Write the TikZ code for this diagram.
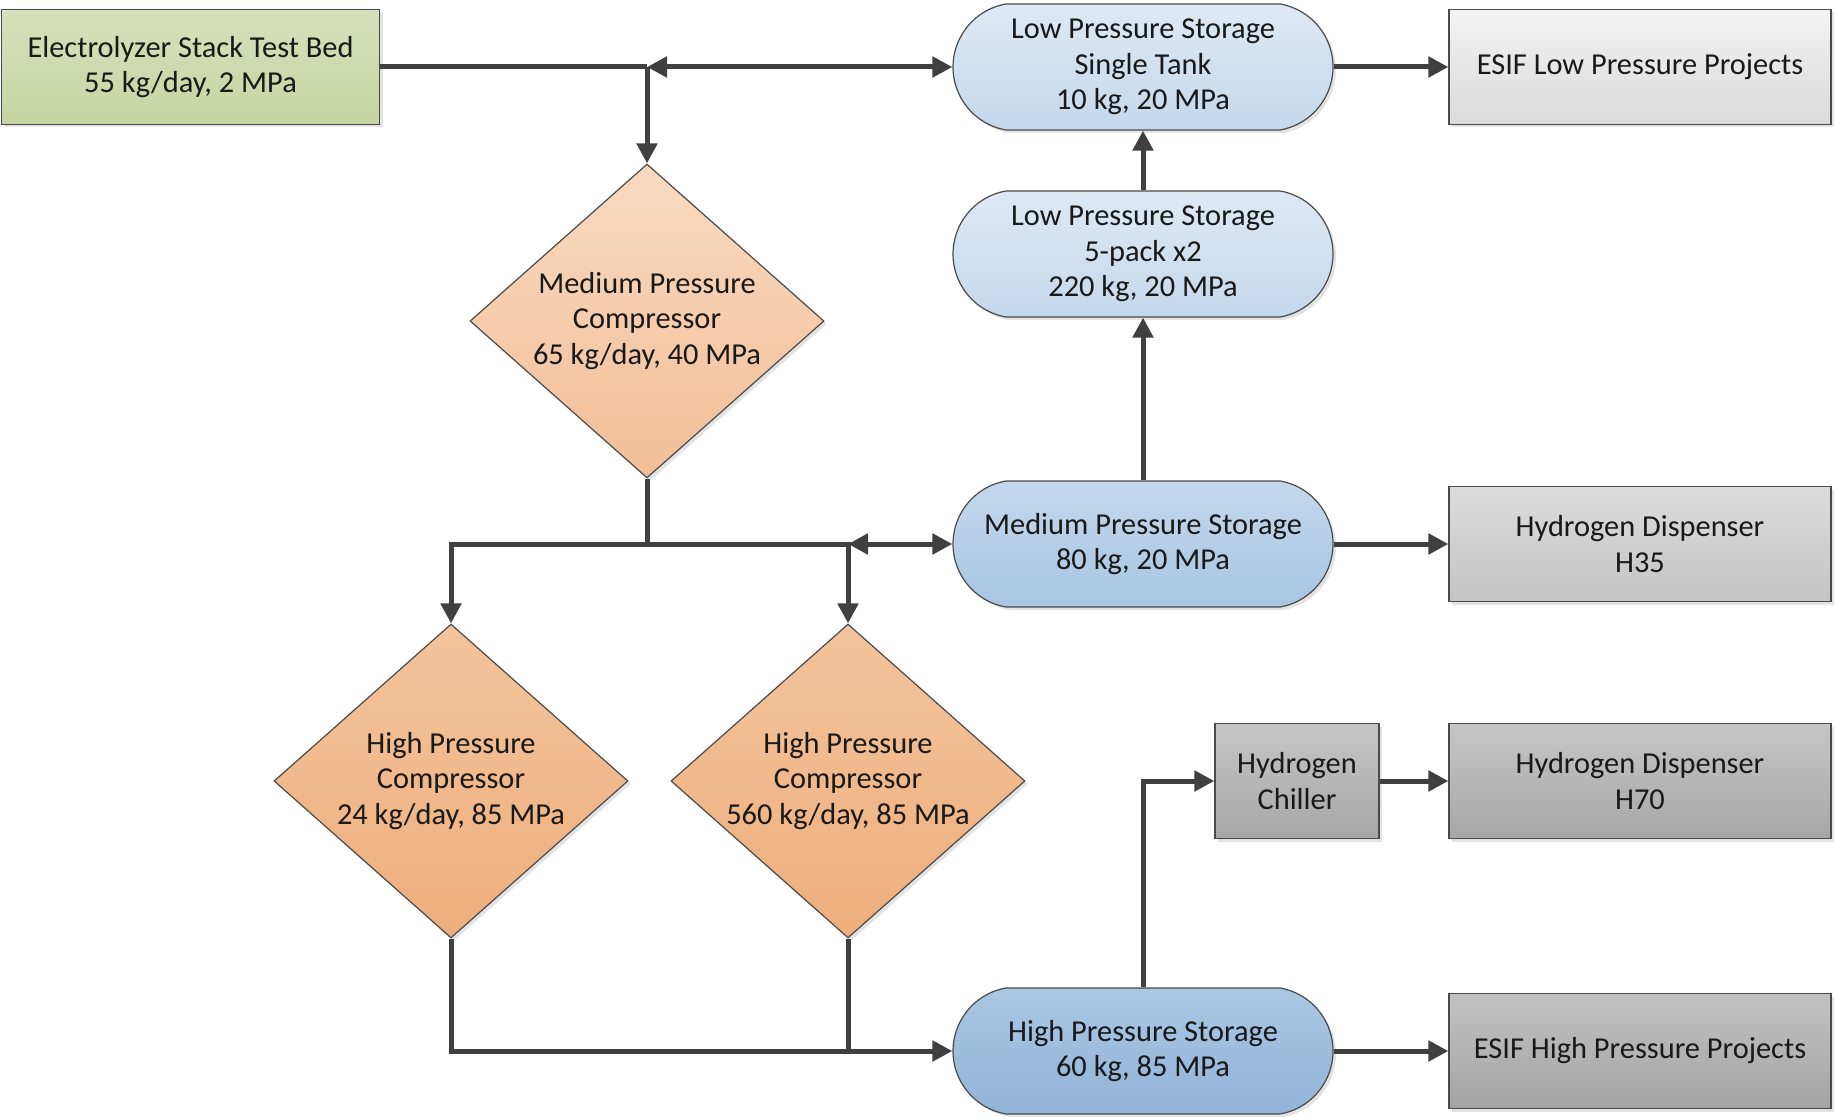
\documentclass[tikz,border=0pt]{standalone}
\usepackage{fontspec}
\setmainfont{Carlito}
\usetikzlibrary{shapes.geometric,shapes.misc,arrows.meta,shadows}
\definecolor{linec}{HTML}{404040}
\definecolor{edgec}{HTML}{4A4A4A}
\begin{document}
\begin{tikzpicture}[x=0.5pt,y=-0.5pt,
  every node/.style={font=\fontsize{15.2}{17.8}\selectfont, align=center, text=black!90},
  base/.style={draw=edgec, line width=0.6pt, inner sep=0pt,
    drop shadow={opacity=0.22, shadow xshift=1.5pt, shadow yshift=-1.5pt}},
  boxn/.style={base, rectangle, minimum height=57.5pt},
  tank/.style={base, rounded rectangle, rounded rectangle arc length=160, minimum width=190pt, minimum height=63pt},
  comp/.style={base, diamond, minimum width=177pt, minimum height=157pt, aspect=1.13},
  conn/.style={draw=linec, line width=2.5pt},
  arr/.style={conn, -{Triangle[width=10pt,length=10pt]}},
  dbl/.style={conn, {Triangle[width=10pt,length=10pt]}-{Triangle[width=10pt,length=10pt]}}
]
\useasboundingbox (0,0) rectangle (1835,1117);

% nodes
\node[boxn, minimum width=189pt, top color={rgb,255:red,214;green,225;blue,188}, bottom color={rgb,255:red,198;green,212;blue,160}] (elec) at (190.5,67) {Electrolyzer Stack Test Bed\\55 kg/day, 2 MPa};

\node[tank, top color={rgb,255:red,222;green,233;blue,244}, bottom color={rgb,255:red,196;green,216;blue,236}] (lps1) at (1143,67) {Low Pressure Storage\\Single Tank\\10 kg, 20 MPa};
\node[tank, top color={rgb,255:red,222;green,233;blue,244}, bottom color={rgb,255:red,196;green,216;blue,236}] (lps2) at (1143,254) {Low Pressure Storage\\5-pack x2\\220 kg, 20 MPa};
\node[tank, top color={rgb,255:red,196;green,216;blue,236}, bottom color={rgb,255:red,168;green,197;blue,226}] (mps) at (1143,544) {Medium Pressure Storage\\80 kg, 20 MPa};
\node[tank, top color={rgb,255:red,170;green,198;blue,227}, bottom color={rgb,255:red,146;green,180;blue,216}] (hps) at (1143,1051) {High Pressure Storage\\60 kg, 85 MPa};

\node[boxn, minimum width=191pt, top color={rgb,255:red,243;green,243;blue,243}, bottom color={rgb,255:red,218;green,218;blue,218}] (esifl) at (1640,67) {ESIF Low Pressure Projects};
\node[boxn, minimum width=191pt, top color={rgb,255:red,220;green,220;blue,220}, bottom color={rgb,255:red,196;green,196;blue,196}] (h35) at (1640,544) {Hydrogen Dispenser\\H35};
\node[boxn, minimum width=82pt, top color={rgb,255:red,198;green,198;blue,198}, bottom color={rgb,255:red,166;green,166;blue,166}] (chill) at (1297,781) {Hydrogen\\Chiller};
\node[boxn, minimum width=191pt, top color={rgb,255:red,198;green,198;blue,198}, bottom color={rgb,255:red,166;green,166;blue,166}] (h70) at (1640,781) {Hydrogen Dispenser\\H70};
\node[boxn, minimum width=191pt, top color={rgb,255:red,194;green,194;blue,194}, bottom color={rgb,255:red,164;green,164;blue,164}] (esifh) at (1640,1051) {ESIF High Pressure Projects};

\node[comp, top color={rgb,255:red,249;green,218;blue,192}, bottom color={rgb,255:red,242;green,190;blue,152}] (mpc) at (647,321) {Medium Pressure\\Compressor\\65 kg/day, 40 MPa};
\node[comp, top color={rgb,255:red,243;green,196;blue,156}, bottom color={rgb,255:red,238;green,174;blue,124}] (hpc1) at (451,781) {High Pressure\\Compressor\\24 kg/day, 85 MPa};
\node[comp, top color={rgb,255:red,243;green,196;blue,156}, bottom color={rgb,255:red,238;green,174;blue,124}] (hpc2) at (848,781) {High Pressure\\Compressor\\560 kg/day, 85 MPa};

% junction points
\coordinate (j1) at (mpc.north |- elec.east);
\coordinate (j2) at (mpc.south |- mps.west);
\coordinate (jr) at (hpc2.north |- mps.west);
\coordinate (jb) at (hpc2.south |- hps.west);

% connectors
\draw[conn] (elec.east) -- (j1);
\draw[arr] (j1) -- (mpc.north);
\draw[dbl] (j1) -- (lps1.west);
\draw[arr] (lps1.east) -- (esifl.west);
\draw[arr] (lps2.north) -- (lps1.south);
\draw[arr] (mps.north) -- (lps2.south);
\draw[arr] (mps.east) -- (h35.west);
\draw[conn] (mpc.south) -- (j2);
\draw[arr] (j2) -| (hpc1.north);
\draw[arr] (j2) -| (hpc2.north);
\draw[dbl] (jr) -- (mps.west);
\draw[arr] (hpc1.south) |- (hps.west);
\draw[conn] (hpc2.south) -- (jb);
\draw[arr] (hps.north) |- (chill.west);
\draw[arr] (chill.east) -- (h70.west);
\draw[arr] (hps.east) -- (esifh.west);
\end{tikzpicture}
\end{document}
